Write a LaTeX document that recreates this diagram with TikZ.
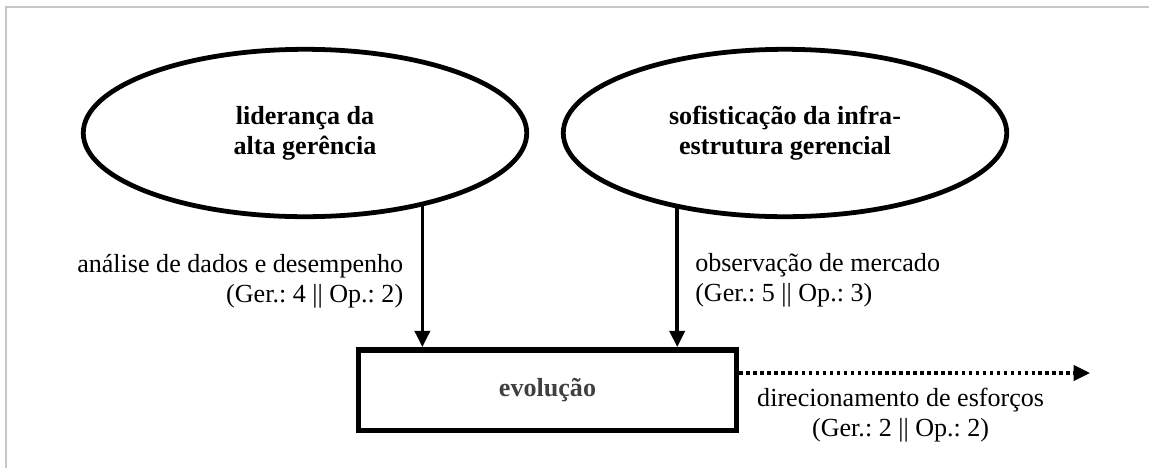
\documentclass[tikz,border=0pt]{standalone}
\usepackage{fontspec}
\setmainfont{Liberation Serif}
\usetikzlibrary{arrows.meta,shapes.geometric,positioning}
\frenchspacing

\begin{document}
\begin{tikzpicture}[x=0.46pt, y=-0.46pt,
        every node/.style={font=\fontsize{12}{13.8}\selectfont},
        factor/.style={ellipse, draw, line width=2.2pt, minimum width=204pt,
            minimum height=77pt, inner sep=0pt, align=center,
            font=\fontsize{12}{13.8}\selectfont\bfseries},
        result/.style={rectangle, draw, line width=2.5pt, minimum width=174pt,
            minimum height=37pt, text=black!75,
            font=\fontsize{12}{13.8}\selectfont\bfseries},
        link/.style={-{Triangle[length=7.5pt,width=7pt]}, line width=1.6pt},
        lbl/.style={inner sep=2pt}]
    \useasboundingbox (0,0) rectangle (1149,468);
    % frame
    \draw
        [black!22, line width=1pt] (6,468) -- (6,7) -- (1149,7);
    % factors
    \node[factor] (lid) at (305,133) {lideran\c{c}a da\\alta ger\^encia};
    \node[factor] (sof) at (785,133) {sofistica\c{c}\~ao da infra-\\estrutura gerencial};
    \node[result] (evo) at (547.5,390) {evolu\c{c}\~ao};
    \coordinate (esf) at (1090,373);
    % connectors
    \draw
        [link] (lid.-32) -- node[lbl, left=6pt, align=right, pos=0.53]
        {an\'alise de dados e desempenho\\(Ger.: 4 || Op.: 2)} (lid.-32 |- evo.north);
    \draw
        [link] (sof.-145) -- node[lbl, right=5.5pt, align=left, pos=0.52]
        {observa\c{c}\~ao de mercado\\(Ger.: 5 || Op.: 3)} (sof.-145 |- evo.north);
    \draw
        [link, dash pattern=on 1.6pt off 1.6pt] (evo.east |- esf) -- node[lbl, below=4pt, align=center, pos=0.46]
        {direcionamento de esfor\c{c}os\\(Ger.: 2 || Op.: 2)} (esf);
\end{tikzpicture}
\end{document}
